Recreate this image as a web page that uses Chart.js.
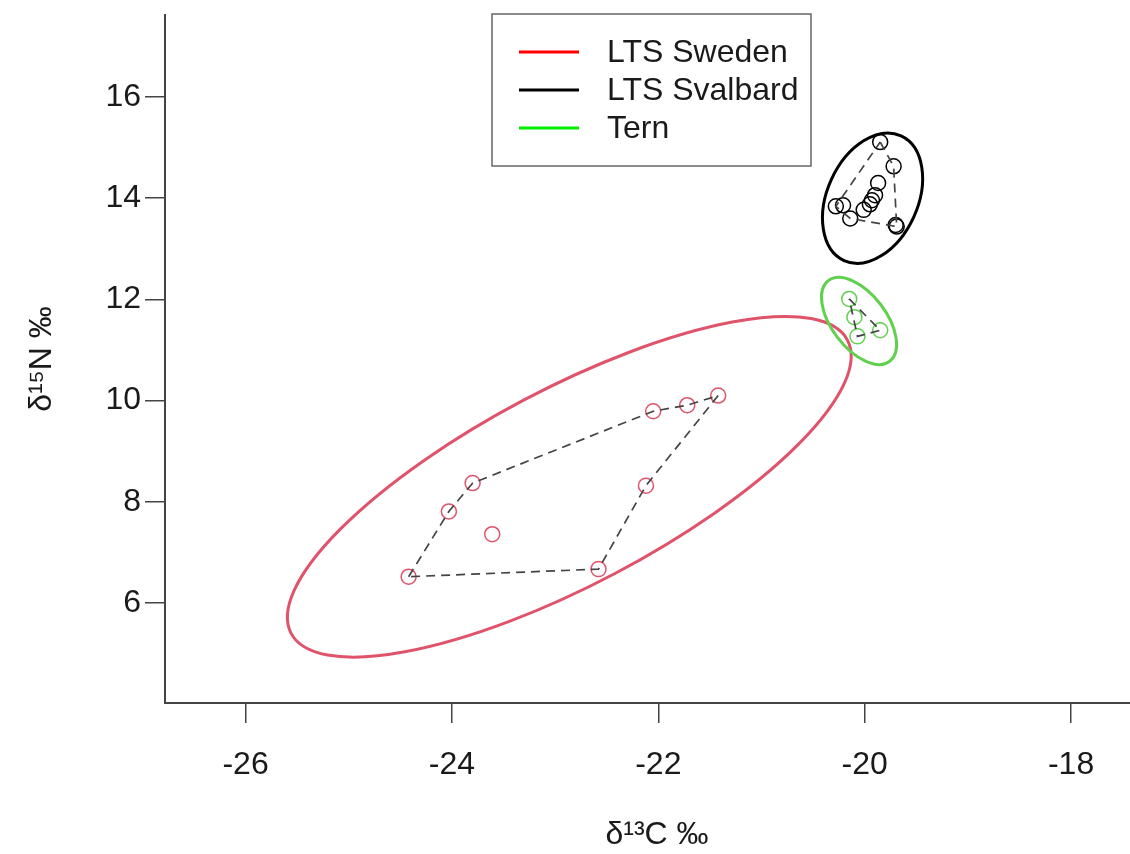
<!DOCTYPE html>
<html>
<head>
<meta charset="utf-8">
<script src="https://cdn.jsdelivr.net/npm/chart.js@4.4.1/dist/chart.umd.min.js"></script>
<style>
  html, body { margin: 0; padding: 0; background: #fff; overflow: hidden; }
  #isoChart { display: block; }
</style>
</head>
<body>
<canvas id="isoChart" width="1158" height="854"></canvas>
<script>
// groups
const groupNames = ["LTS Sweden", "LTS Svalbard", "Tern"];

// d13C / d15N per sample
const swedenC = [-24.42, -24.03, -23.80, -23.61, -22.58, -22.12, -22.05, -21.72, -21.42];
const swedenN = [6.52, 7.81, 8.37, 7.36, 6.67, 8.32, 9.79, 9.91, 10.10];

const svalbardC = [-19.85, -19.72, -19.87, -19.90, -19.93, -19.95, -20.01, -20.28, -20.21, -20.14, -19.70, -19.69];
const svalbardN = [15.11, 14.63, 14.30, 14.06, 13.96, 13.88, 13.77, 13.84, 13.86, 13.60, 13.47, 13.44];

const ternC = [-20.15, -20.10, -20.07, -19.85];
const ternN = [12.01, 11.65, 11.27, 11.39];

// convex hull vertex order (indices into each group)
const swedenHull = [0, 1, 2, 6, 7, 8, 5, 4, 0];
const svalbardHull = [0, 1, 11, 9, 7, 0];
const ternHull = [0, 3, 2, 0];

// ellipses: centre, half extent along each axis, covariance term
const ellipseC = [-22.863, -19.924, -20.055];
const ellipseN = [8.297, 14.0, 11.574];
const ellipseSdC = [2.732, 0.485, 0.364];
const ellipseSdN = [3.366, 1.287, 0.861];
const ellipseCov = [7.053, 0.192, -0.169];

// axes
const cTicks = [-26, -24, -22, -20, -18];
const nTicks = [6, 8, 10, 12, 14, 16];
const cRange = [-26.781, -17.245];
const nRange = [4.024, 17.621];

const pointColors = ["#DF536B", "#000000", "#61D04F"];
const legendColors = ["#ff0000", "#000000", "#00ee00"];
const textColor = "#1a1a1a";
const axisColor = "#444";
const fontFamily = "'Liberation Sans', Arial, Helvetica, sans-serif";
const fontSize = 32;

function toPoints(xs, ys) {
  return xs.map((x, i) => ({ x: x, y: ys[i] }));
}

function hullPoints(xs, ys, idx) {
  return idx.map((i) => ({ x: xs[i], y: ys[i] }));
}

function pointSet(label, data, color) {
  return {
    label: label,
    data: data,
    showLine: false,
    pointRadius: 7.5,
    pointHoverRadius: 7.5,
    pointBorderWidth: 1.5,
    pointBackgroundColor: "rgba(0,0,0,0)",
    pointBorderColor: color,
    borderColor: color,
  };
}

function hullSet(data) {
  return {
    label: "hull",
    data: data,
    showLine: true,
    fill: false,
    borderColor: "#444",
    borderWidth: 1.7,
    borderDash: [9, 6],
    pointRadius: 0,
    pointHoverRadius: 0,
    tension: 0,
  };
}

const ellipsePlugin = {
  id: "ellipses",
  afterDatasetsDraw(chart) {
    const ctx = chart.ctx;
    const xs = chart.scales.x;
    const ys = chart.scales.y;
    const kx = xs.getPixelForValue(1) - xs.getPixelForValue(0);
    const ky = ys.getPixelForValue(0) - ys.getPixelForValue(1);
    ctx.save();
    for (let i = 0; i < ellipseC.length; i++) {
      const cx = xs.getPixelForValue(ellipseC[i]);
      const cy = ys.getPixelForValue(ellipseN[i]);
      const a = Math.pow(ellipseSdC[i] * kx, 2);
      const c = Math.pow(ellipseSdN[i] * ky, 2);
      const b = -ellipseCov[i] * kx * ky;
      const mid = (a + c) / 2;
      const r = Math.sqrt(Math.pow((a - c) / 2, 2) + b * b);
      const theta = 0.5 * Math.atan2(2 * b, a - c);
      ctx.beginPath();
      ctx.ellipse(cx, cy, Math.sqrt(mid + r), Math.sqrt(mid - r), theta, 0, Math.PI * 2);
      ctx.strokeStyle = pointColors[i];
      ctx.lineWidth = 3;
      ctx.stroke();
    }
    ctx.restore();
  },
};

const legendPlugin = {
  id: "boxLegend",
  afterDraw(chart) {
    const ctx = chart.ctx;
    ctx.save();
    ctx.strokeStyle = "#666";
    ctx.lineWidth = 1.5;
    ctx.strokeRect(492, 14, 319, 152);
    ctx.font = fontSize + "px " + fontFamily;
    ctx.textBaseline = "middle";
    ctx.textAlign = "left";
    groupNames.forEach((name, i) => {
      const y = 52 + i * 38;
      ctx.beginPath();
      ctx.moveTo(519, y);
      ctx.lineTo(579, y);
      ctx.strokeStyle = legendColors[i];
      ctx.lineWidth = 3;
      ctx.stroke();
      ctx.fillStyle = textColor;
      ctx.fillText(name, 607, y + 1);
    });
    ctx.restore();
  },
};

const axisGrid = {
  display: true,
  drawOnChartArea: false,
  drawTicks: true,
  tickLength: 20,
  color: axisColor,
  lineWidth: 1.5,
};

new Chart(document.getElementById("isoChart"), {
  type: "scatter",
  data: {
    datasets: [
      hullSet(hullPoints(swedenC, swedenN, swedenHull)),
      hullSet(hullPoints(svalbardC, svalbardN, svalbardHull)),
      hullSet(hullPoints(ternC, ternN, ternHull)),
      pointSet(groupNames[0], toPoints(swedenC, swedenN), pointColors[0]),
      pointSet(groupNames[1], toPoints(svalbardC, svalbardN), pointColors[1]),
      pointSet(groupNames[2], toPoints(ternC, ternN), pointColors[2]),
    ],
  },
  options: {
    responsive: false,
    devicePixelRatio: 1,
    animation: false,
    layout: { padding: { top: 15, right: 1, left: 0, bottom: 0 } },
    scales: {
      x: {
        type: "linear",
        min: cRange[0],
        max: cRange[1],
        afterBuildTicks: (scale) => {
          scale.ticks = cTicks.map((v) => ({ value: v }));
        },
        afterFit: (scale) => {
          scale.height = 151;
          scale.paddingLeft = 0;
          scale.paddingRight = 0;
        },
        grid: axisGrid,
        border: { display: true, color: axisColor, width: 2 },
        ticks: {
          color: textColor,
          padding: 23,
          maxRotation: 0,
          font: { family: fontFamily, size: fontSize },
        },
        title: {
          display: true,
          text: "δ¹³C ‰",
          color: textColor,
          font: { family: fontFamily, size: fontSize },
          padding: { top: 0, bottom: 0 },
        },
      },
      y: {
        type: "linear",
        min: nRange[0],
        max: nRange[1],
        afterBuildTicks: (scale) => {
          scale.ticks = nTicks.map((v) => ({ value: v }));
        },
        afterFit: (scale) => {
          scale.width = 165;
          scale.paddingTop = 0;
          scale.paddingBottom = 0;
        },
        grid: axisGrid,
        border: { display: true, color: axisColor, width: 2 },
        ticks: {
          color: textColor,
          padding: 4,
          font: { family: fontFamily, size: fontSize },
        },
        title: {
          display: true,
          text: "δ¹⁵N ‰",
          color: textColor,
          font: { family: fontFamily, size: fontSize },
          padding: { top: 23, bottom: 0 },
        },
      },
    },
    plugins: {
      legend: { display: false },
      tooltip: { enabled: false },
    },
  },
  plugins: [ellipsePlugin, legendPlugin],
});
</script>
</body>
</html>
